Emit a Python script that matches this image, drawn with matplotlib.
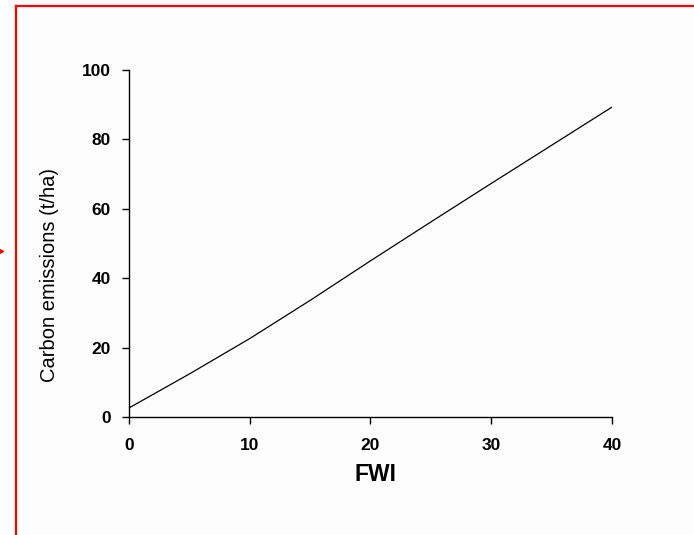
import matplotlib
matplotlib.use("Agg")
import matplotlib.pyplot as plt
from matplotlib.lines import Line2D

# data
fwi = [0, 5, 10, 15, 20, 25, 30, 35, 40]
carbon = [2.6, 12.4, 22.6, 33.6, 45.0, 56.2, 67.3, 78.3, 89.3]

xticks = [0, 10, 20, 30, 40]
yticks = [0, 20, 40, 60, 80, 100]

plt.rcParams['font.family'] = ['Liberation Sans', 'DejaVu Sans']

fig = plt.figure(figsize=(6.94, 5.35), dpi=100, facecolor='#fdfdfd')
ax = fig.add_axes([0.1859, 0.2206, 0.6959, 0.6486])
ax.set_facecolor('#fdfdfd')

ax.plot(fwi, carbon, color='black', lw=0.9)

ax.set_xlim(0, 40)
ax.set_ylim(0, 100)
ax.set_xticks(xticks)
ax.set_yticks(yticks)
ax.spines['top'].set_visible(False)
ax.spines['right'].set_visible(False)
for s in ['left', 'bottom']:
    ax.spines[s].set_linewidth(1.0)
ax.tick_params(axis='y', direction='out', length=5, width=1, pad=8, labelsize=12.5)
ax.tick_params(axis='x', direction='out', length=5, width=1, pad=10, labelsize=12.5)
for t in ax.get_xticklabels() + ax.get_yticklabels():
    t.set_fontweight('bold')

ax.set_xlabel('FWI', fontsize=16.5, fontweight='bold', va='center')
ax.xaxis.set_label_coords(0.511, -0.167)
ax.set_ylabel('Carbon emissions (t/ha)', fontsize=14.5, va='center')
ax.yaxis.set_label_coords(-0.165, 0.41)

# red slide border
fig.add_artist(Line2D([16/694, 1.0], [1 - 6/535, 1 - 6/535], color='red', lw=1.6))
fig.add_artist(Line2D([16/694, 16/694], [0, 1 - 6/535], color='red', lw=1.6))
fig.add_artist(Line2D([1/694], [1 - 251/535], color='red', marker='>', ms=3, lw=0))

fig.savefig('out.png', dpi=100, facecolor=fig.get_facecolor())
